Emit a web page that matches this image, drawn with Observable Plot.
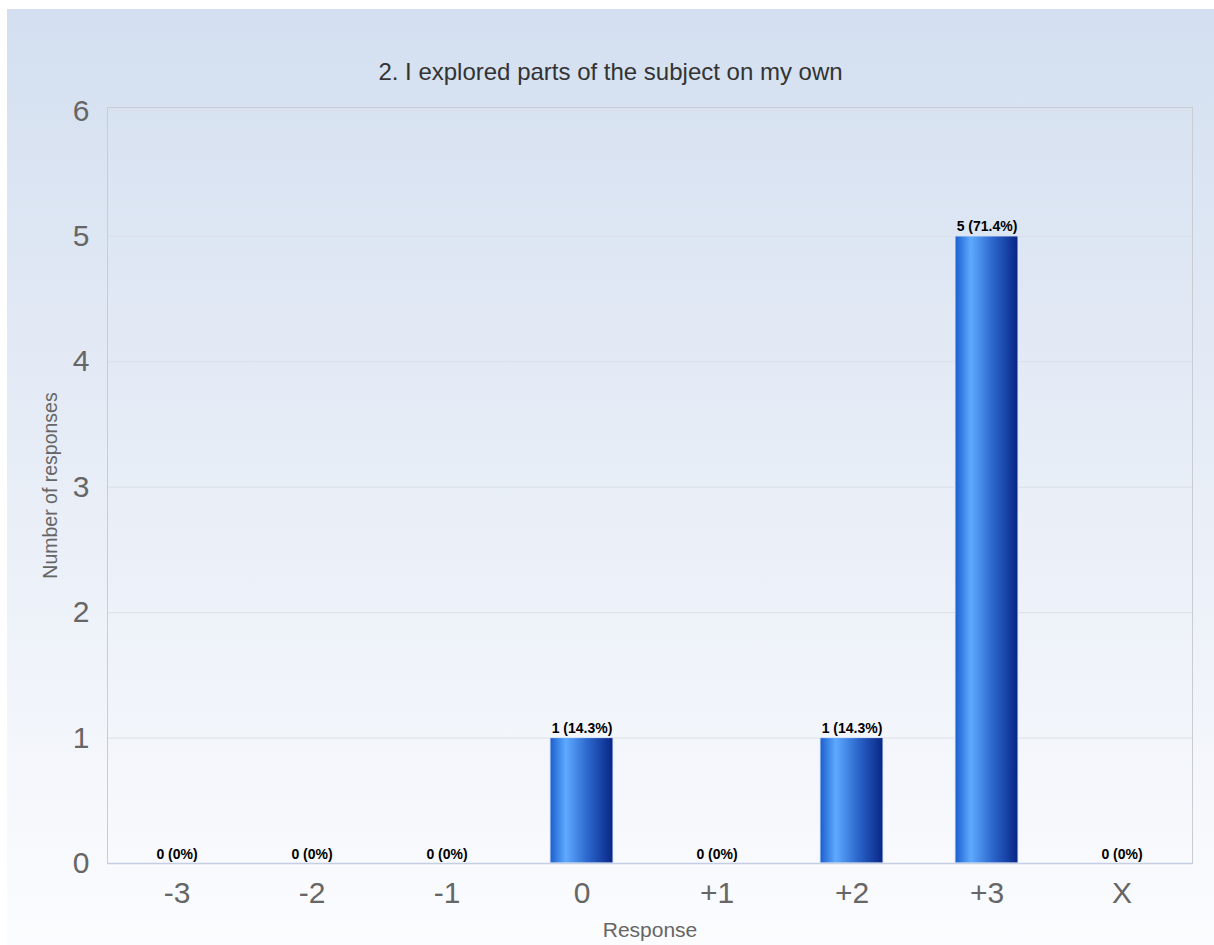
<!DOCTYPE html>
<html>
<head>
<meta charset="utf-8">
<script src="https://cdn.jsdelivr.net/npm/d3@7"></script>
<script src="https://cdn.jsdelivr.net/npm/@observablehq/plot@0.6"></script>
<style>
  html, body { margin: 0; padding: 0; background: #fff; }
  #chart {
    position: absolute; left: 7px; top: 9px; width: 1207px; height: 936px;
    background: linear-gradient(to bottom, #d3dff0 0%, #e6ecf6 45%, #fbfcfe 100%);
    font-family: Arial, "Liberation Sans", sans-serif;
  }
  #title {
    position: absolute; left: 0; top: 49px; width: 100%; text-align: center;
    font-size: 24px; color: #333;
  }
  #chart svg { position: absolute; left: 0; top: 0; background: transparent; }
</style>
</head>
<body>
<div id="chart"><div id="title">2. I explored parts of the subject on my own</div></div>
<script>
const categories = ["-3", "-2", "-1", "0", "+1", "+2", "+3", "X"];
const counts = [0, 0, 0, 1, 0, 1, 5, 0];
const percents = ["0%", "0%", "0%", "14.3%", "0%", "14.3%", "71.4%", "0%"];
const yTicks = [0, 1, 2, 3, 4, 5, 6];

const data = categories.map((c, i) => ({cat: c, n: counts[i], label: `${counts[i]} (${percents[i]})`}));

const defs = () => {
  const d = d3.create("svg:defs");
  const g = d.append("linearGradient").attr("id", "barGrad").attr("x1", "0").attr("x2", "1").attr("y1", "0").attr("y2", "0");
  g.append("stop").attr("offset", "0%").attr("stop-color", "#1a5dcd");
  g.append("stop").attr("offset", "25%").attr("stop-color", "#5eaaff");
  g.append("stop").attr("offset", "60%").attr("stop-color", "#2c66cc");
  g.append("stop").attr("offset", "100%").attr("stop-color", "#072585");
  return d.node();
};

const plot = Plot.plot({
  width: 1207,
  height: 936,
  marginLeft: 100,
  marginRight: 22,
  marginTop: 98,
  marginBottom: 82,
  style: {background: "transparent", fontFamily: "Arial, 'Liberation Sans', sans-serif"},
  x: {domain: categories, paddingInner: 0.53, paddingOuter: 0.265, label: null},
  y: {domain: [0, 6], label: null, insetTop: 3.5},
  marks: [
    defs,
    Plot.gridY(yTicks, {stroke: "#dcdfe6", strokeOpacity: 1}),
    Plot.frame({stroke: "#c9ccd3"}),
    Plot.barY(data, {x: "cat", y: "n", fill: "url(#barGrad)", stroke: "#dfe8f8", strokeWidth: 1}),
    Plot.ruleY([0], {stroke: "#c5cfe3", strokeWidth: 1.5}),
    Plot.text(data, {x: "cat", y: "n", text: "label", dy: -5, lineAnchor: "bottom", fontSize: 14, fontWeight: "bold", fill: "#000"}),
    Plot.axisY(yTicks, {tickSize: 0, tickPadding: 18, fontSize: 30, fill: "#666", label: null, tickFormat: "d"}),
    Plot.axisX({tickSize: 0, tickPadding: 18, fontSize: 30, fill: "#666", label: null}),
    Plot.text(["Number of responses"], {frameAnchor: "left", dx: -57, rotate: -90, textAnchor: "middle", fontSize: 19.5, fill: "#666"}),
    Plot.text(["Response"], {frameAnchor: "bottom", dy: 67, lineAnchor: "middle", textAnchor: "middle", fontSize: 21, fill: "#666"})
  ]
});
document.getElementById("chart").appendChild(plot);
</script>
</body>
</html>
